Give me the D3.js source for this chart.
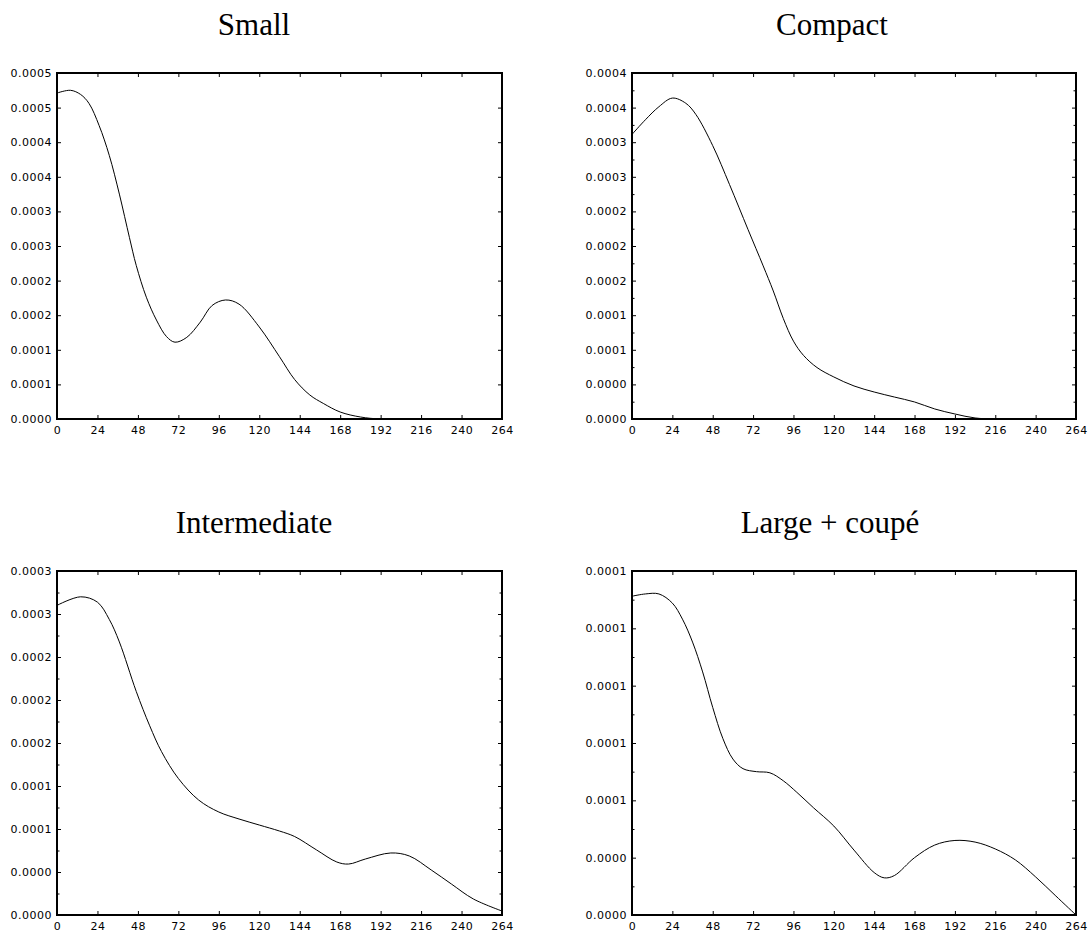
<script src='https://d3js.org/d3.v7.min.js'></script>
<style>
body { margin: 0; background: #fff; }
.tick text { font-family: "DejaVu Sans", sans-serif; font-size: 11px; letter-spacing: 0.5px; fill: #000; }
.title { font-family: "Liberation Serif", "Times New Roman", serif; font-size: 31px; fill: #000; }
</style>
<body>
<script>
// Size of the page
const W = 1090;
const H = 938;

// x axis shared by all panels
const xTicks = [0, 24, 48, 72, 96, 120, 144, 168, 192, 216, 240, 264];

// Small
const smallX = [0, 8, 14, 19, 25, 31, 37, 43, 47, 53, 59, 65, 70, 77, 85, 92, 100, 108, 120, 132, 141, 150, 158, 168, 180, 192, 216, 240, 264];
const smallY = [0.000471, 0.000475, 0.000469, 0.000456, 0.000424, 0.000381, 0.000325, 0.000262, 0.000222, 0.000176, 0.000143, 0.000119, 0.000111, 0.000118, 0.000140, 0.000164, 0.000172, 0.000166, 0.000133, 0.000090, 0.000057, 0.0000347, 0.0000225, 0.0000101, 0.0000029, 0, 0, 0, 0];
const smallTicks = [0, 0.00005, 0.0001, 0.00015, 0.0002, 0.00025, 0.0003, 0.00035, 0.0004, 0.00045, 0.0005];
const smallLabels = ["0.0000", "0.0001", "0.0001", "0.0002", "0.0002", "0.0003", "0.0003", "0.0004", "0.0004", "0.0005", "0.0005"];

// Compact
const compactX = [0, 8, 16, 24, 32, 38, 48, 58, 69, 78, 84, 90, 96, 102, 110, 120, 132, 144, 156, 168, 180, 192, 204, 216, 240, 264];
const compactY = [0.000329, 0.000346, 0.000361, 0.000371, 0.000365, 0.000352, 0.000316, 0.000271, 0.000219, 0.000177, 0.000148, 0.000116, 0.0000900, 0.0000735, 0.0000595, 0.0000486, 0.0000382, 0.0000312, 0.0000254, 0.0000197, 0.0000116, 0.0000058, 0.0000012, 0, 0, 0];
const compactTicks = [0, 0.00004, 0.00008, 0.00012, 0.00016, 0.0002, 0.00024, 0.00028, 0.00032, 0.00036, 0.0004];
const compactLabels = ["0.0000", "0.0000", "0.0001", "0.0001", "0.0002", "0.0002", "0.0002", "0.0003", "0.0003", "0.0004", "0.0004"];

// Intermediate
const interX = [0, 14, 24, 31, 37, 47, 55, 62, 72, 84, 96, 108, 120, 132, 141, 154, 166, 173, 183, 198, 209, 222, 234, 247, 264];
const interY = [0.000288, 0.000296, 0.000291, 0.000275, 0.000254, 0.000208, 0.000176, 0.000152, 0.000127, 0.000107, 0.0000958, 0.0000893, 0.0000837, 0.0000781, 0.0000730, 0.0000605, 0.0000493, 0.0000474, 0.0000521, 0.0000577, 0.0000549, 0.0000419, 0.0000288, 0.0000149, 0.0000037];
const interTicks = [0, 0.00004, 0.00008, 0.00012, 0.00016, 0.0002, 0.00024, 0.00028, 0.00032];
const interLabels = ["0.0000", "0.0000", "0.0001", "0.0001", "0.0002", "0.0002", "0.0002", "0.0003", "0.0003"];

// Large + coupé
const largeX = [0, 8, 16, 24, 30, 36, 42, 48, 54, 60, 66, 74, 82, 90, 98, 108, 120, 132, 144, 150, 156, 168, 180, 192, 204, 216, 228, 240, 252, 264];
const largeY = [0.000139, 0.000140, 0.000140, 0.000136, 0.000129, 0.000119, 0.000106, 0.0000905, 0.0000770, 0.0000680, 0.0000638, 0.0000625, 0.0000620, 0.0000585, 0.0000535, 0.0000467, 0.0000388, 0.0000283, 0.0000185, 0.0000162, 0.0000172, 0.0000250, 0.0000305, 0.0000325, 0.0000318, 0.0000288, 0.0000240, 0.0000166, 0.0000083, 0];
const largeTicks = [0, 0.000025, 0.00005, 0.000075, 0.0001, 0.000125, 0.00015];
const largeLabels = ["0.0000", "0.0000", "0.0001", "0.0001", "0.0001", "0.0001", "0.0001"];

const panels = [
  { title: "Small", xs: smallX, ys: smallY, ticks: smallTicks, labels: smallLabels, minor: false,
    l: 57, t: 73, r: 502, b: 419, tx: 254 },
  { title: "Compact", xs: compactX, ys: compactY, ticks: compactTicks, labels: compactLabels, minor: true,
    l: 632, t: 73, r: 1076, b: 419, tx: 832 },
  { title: "Intermediate", xs: interX, ys: interY, ticks: interTicks, labels: interLabels, minor: true,
    l: 57, t: 571, r: 502, b: 915, tx: 254 },
  { title: "Large + coupé", xs: largeX, ys: largeY, ticks: largeTicks, labels: largeLabels, minor: true,
    l: 632, t: 571, r: 1076, b: 915, tx: 830 }
];

const svg = d3.select("body")
  .append("svg")
  .attr("width", W)
  .attr("height", H);

panels.forEach(drawPanel);

function drawPanel(p) {
  const g = svg.append("g");
  const yMax = p.ticks[p.ticks.length - 1];

  const x = d3.scaleLinear().domain([0, 264]).range([p.l, p.r]);
  const y = d3.scaleLinear().domain([0, yMax]).range([p.b, p.t]);

  // title
  g.append("text")
    .attr("class", "title")
    .attr("x", p.tx)
    .attr("y", p.t - 38)
    .attr("text-anchor", "middle")
    .text(p.title);

  // minor ticks halfway between the labelled ones
  if (p.minor) {
    const step = p.ticks[1];
    const minorTicks = p.ticks.slice(0, -1).map(d => d + step / 2);
    g.append("g")
      .attr("transform", `translate(${p.l},0)`)
      .call(d3.axisLeft(y).tickValues(minorTicks).tickFormat("").tickSizeInner(-2.5).tickSizeOuter(0))
      .call(a => a.select(".domain").remove());
    g.append("g")
      .attr("transform", `translate(${p.r},0)`)
      .call(d3.axisRight(y).tickValues(minorTicks).tickFormat("").tickSizeInner(-2.5).tickSizeOuter(0))
      .call(a => a.select(".domain").remove());
  }

  // bottom axis
  g.append("g")
    .attr("transform", `translate(0,${p.b})`)
    .call(d3.axisBottom(x).tickValues(xTicks).tickSizeInner(-4).tickSizeOuter(0).tickPadding(7))
    .call(a => a.select(".domain").remove());

  // top axis
  g.append("g")
    .attr("transform", `translate(0,${p.t})`)
    .call(d3.axisTop(x).tickValues(xTicks).tickFormat("").tickSizeInner(-4).tickSizeOuter(0))
    .call(a => a.select(".domain").remove());

  // left axis
  g.append("g")
    .attr("transform", `translate(${p.l},0)`)
    .call(d3.axisLeft(y).tickValues(p.ticks).tickFormat((d, i) => p.labels[i]).tickSizeInner(-4).tickSizeOuter(0).tickPadding(5))
    .call(a => a.select(".domain").remove());

  // right axis
  g.append("g")
    .attr("transform", `translate(${p.r},0)`)
    .call(d3.axisRight(y).tickValues(p.ticks).tickFormat("").tickSizeInner(-4).tickSizeOuter(0))
    .call(a => a.select(".domain").remove());

  g.selectAll(".tick line").attr("stroke", "#000").attr("stroke-width", 1);

  // frame
  g.append("rect")
    .attr("x", p.l)
    .attr("y", p.t)
    .attr("width", p.r - p.l)
    .attr("height", p.b - p.t)
    .attr("fill", "none")
    .attr("stroke", "#000")
    .attr("stroke-width", 2);

  // the curve
  const pts = p.xs.map((d, i) => ({ x: d, y: p.ys[i] }));
  g.append("path")
    .datum(pts)
    .attr("fill", "none")
    .attr("stroke", "#000")
    .attr("stroke-width", 1)
    .attr("d", d3.line()
      .curve(d3.curveCatmullRom.alpha(0.5))
      .x(d => x(d.x))
      .y(d => y(Math.max(0, d.y))));
}
</script>
</body>
